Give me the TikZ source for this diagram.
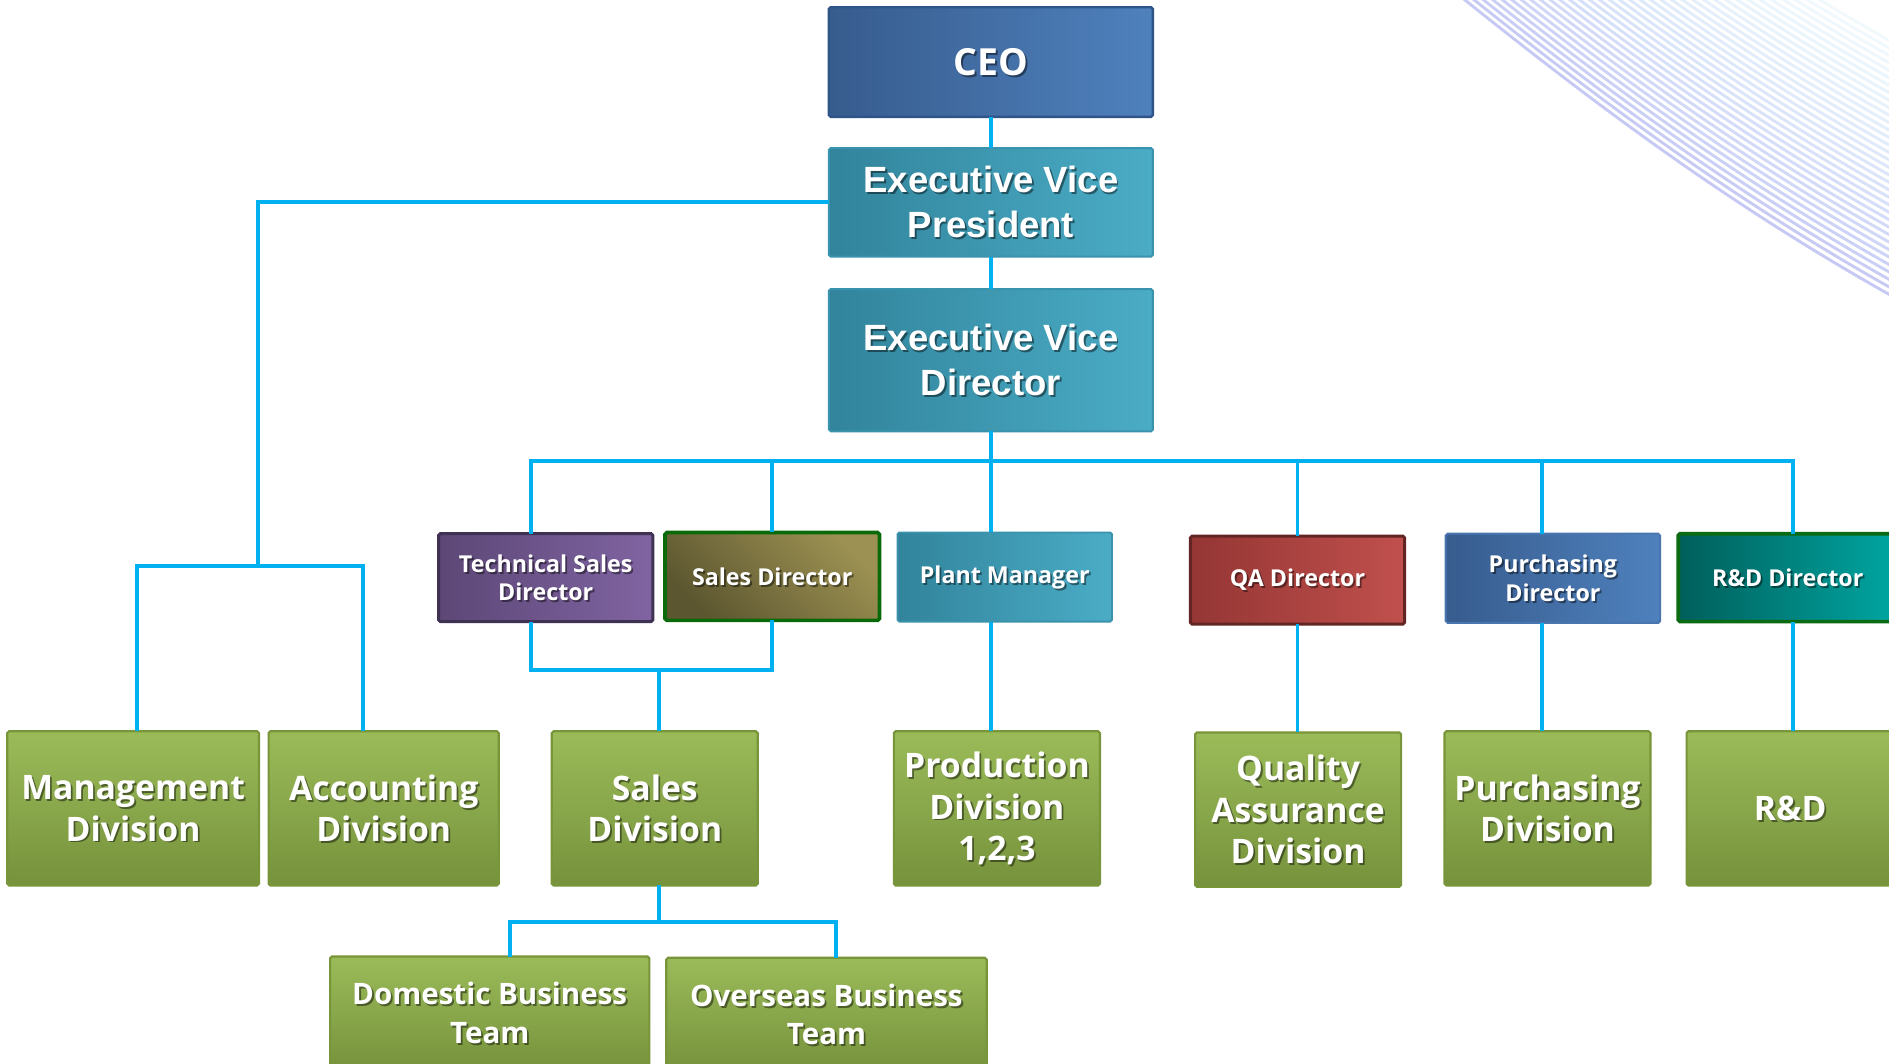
\documentclass[tikz,border=0pt]{standalone}
\usepackage{fontspec}
\setmainfont{Open Sans}
\newfontfamily\arialfont{Liberation Sans}
\definecolor{conncol}{HTML}{00B0F0}
\definecolor{ceoL}{HTML}{375C8E}
\definecolor{ceoR}{HTML}{4F81BD}
\definecolor{ceoB}{HTML}{2F5488}
\definecolor{tealL}{HTML}{31849B}
\definecolor{tealR}{HTML}{4BACC6}
\definecolor{tealB}{HTML}{3A93AC}
\definecolor{purL}{HTML}{5C4776}
\definecolor{purR}{HTML}{8064A2}
\definecolor{purB}{HTML}{3F3151}
\definecolor{olvD}{HTML}{5C5630}
\definecolor{olvL}{HTML}{9C9152}
\definecolor{olvB}{HTML}{0A6A0A}
\definecolor{redL}{HTML}{943634}
\definecolor{redR}{HTML}{C0504D}
\definecolor{redB}{HTML}{632523}
\definecolor{bluB}{HTML}{4A76B0}
\definecolor{rdL}{HTML}{005E5A}
\definecolor{rdR}{HTML}{00A6A2}
\definecolor{rdB}{HTML}{0B6B12}
\definecolor{grnT}{HTML}{9BBB59}
\definecolor{grnD}{HTML}{76923C}
\definecolor{grnB}{HTML}{789639}
\definecolor{decoA}{HTML}{A4A8EE}
\definecolor{decoB}{HTML}{A8DDF8}
\tikzset{
  conn/.style={draw=conncol, line width=3.2pt},
  bx/.style={inner sep=0pt, outer sep=0pt, rounded corners=1.5pt},
  ceobox/.style={bx, left color=ceoL, right color=ceoR, draw=ceoB, line width=2pt},
  tealbox/.style={bx, left color=tealL, right color=tealR, draw=tealB, line width=1.6pt},
  purbox/.style={bx, left color=purL, right color=purR, draw=purB, line width=2.5pt},
  olvbox/.style={bx, top color=olvL, bottom color=olvD, shading angle=-45, draw=olvB, line width=3pt},
  redbox/.style={bx, left color=redL, right color=redR, draw=redB, line width=2.5pt},
  blubox/.style={bx, left color=ceoL, right color=ceoR, draw=bluB, line width=1.6pt},
  rdbox/.style={bx, left color=rdL, right color=rdR, draw=rdB, line width=3pt},
  grnbox/.style={bx, top color=grnT, bottom color=grnD, draw=grnB, line width=1.8pt},
  txtbase/.style={text=white, align=center, inner sep=0pt},
  ceotxt/.style={txtbase, font=\bfseries\fontsize{31}{37}\selectfont},
  arialtxt/.style={txtbase, font=\arialfont\bfseries\fontsize{30.3}{37.4}\selectfont},
  midtxt/.style={txtbase, font=\bfseries\fontsize{19.3}{23.5}\selectfont},
  grntxt/.style={txtbase, font=\bfseries\fontsize{28}{34.5}\selectfont},
  teamtxt/.style={txtbase, font=\bfseries\fontsize{24.5}{32}\selectfont},
}
\newcommand\obox[8]{%
  \pgfmathsetmacro\obw{#4-#2}%
  \pgfmathsetmacro\obh{#5-#3}%
  \node[#6, minimum width=\obw pt, minimum height=\obh pt] (#1) at ({(#2+#4)/2},{(#3+#5)/2}) {};
  \node[#7, text=black, text opacity=0.45] at ([xshift=1.5pt,yshift=-1.6pt]#1.center) {#8};
  \node[#7] at (#1.center) {#8};
}
\begin{document}
\begin{tikzpicture}[x=1pt,y=-1pt]
\path[use as bounding box] (0,0) rectangle (1568,883);
\clip (0,0) rectangle (1568,883);
\fill[white] (0,0) rectangle (1568,883);
% decorative curves
\foreach \k in {0,...,34}{
  \pgfmathtruncatemacro\pct{100-\k*100/34}
  \pgfmathsetmacro\op{0.62-0.47*\k/34}
  \draw[line width=2.4pt, color=decoA!\pct!decoB, opacity=\op, shift={(0,-\k*6.2)}]
    (1130,-70) .. controls (1300,70) and (1430,170) .. (1600,262);
}
% boxes
\obox{ceo}{688}{6}{957}{97}{ceobox}{ceotxt}{CEO}
\obox{evp}{688}{123}{957}{213}{tealbox}{arialtxt}{Executive Vice\\President}
\obox{evd}{688}{240}{957}{358}{tealbox}{arialtxt}{Executive Vice\\Director}
\obox{tsd}{364}{443}{542}{516}{purbox}{midtxt}{Technical Sales\\Director}
\obox{sd}{552}{442}{730}{515}{olvbox}{midtxt}{Sales Director}
\obox{pm}{745}{442}{923}{516}{tealbox}{midtxt}{Plant Manager}
\obox{qad}{988}{445}{1166}{518}{redbox}{midtxt}{QA Director}
\obox{pud}{1200}{443}{1378}{517}{blubox}{midtxt}{Purchasing\\Director}
\obox{rdd}{1393}{443}{1575}{516}{rdbox}{midtxt}{R\&D Director}
\obox{mgmt}{6}{607}{215}{735}{grnbox}{grntxt}{Management\\Division}
\obox{acct}{223}{607}{414}{735}{grnbox}{grntxt}{Accounting\\Division}
\obox{sales}{458}{607}{629}{735}{grnbox}{grntxt}{Sales\\Division}
\obox{prod}{742}{607}{913}{735}{grnbox}{grntxt}{Production\\Division\\1,2,3}
\obox{qadiv}{992}{608}{1163}{736}{grnbox}{grntxt}{Quality\\Assurance\\Division}
\obox{pudiv}{1199}{607}{1370}{735}{grnbox}{grntxt}{Purchasing\\Division}
\obox{rd}{1400}{607}{1572}{735}{grnbox}{grntxt}{R\&D}
\obox{dom}{274}{794}{539}{888}{grnbox}{teamtxt}{Domestic Business\\Team}
\obox{ovs}{553}{795}{819}{889}{grnbox}{teamtxt}{Overseas Business\\Team}
% junction coordinates
\coordinate (lj) at (214,470);
\coordinate (lm) at (114,470);
\coordinate (la) at (301,470);
\coordinate (bL) at (441,383);
\coordinate (bR) at (1488,383);
\coordinate (bP) at (1280,383);
\coordinate (sj) at (547,556);
\coordinate (tj) at (547,765);
\coordinate (tl) at (423,765);
\coordinate (tr) at (694,765);
% connectors
\draw[conn] (ceo.south) -- (evp.north);
\draw[conn] (evp.south) -- (evd.north);
\draw[conn] (evp.west) -| (lj);
\draw[conn] (mgmt.north -| lm) |- (la) -- (la |- acct.north);
\draw[conn] (evd.south) -- (evd.south |- pm.north);
\draw[conn] (tsd.north -| bL) -- (bL) -- (bR) -- (bR |- rdd.north);
\draw[conn] (sd.north) -- (sd.north |- bL);
\draw[conn] (qad.north) -- (qad.north |- bL);
\draw[conn] (bP) -- (bP |- pud.north);
\draw[conn] (tsd.south -| bL) |- (sd.south |- sj) -- (sd.south);
\draw[conn] (sj) -- (sj |- sales.north);
\draw[conn] (pm.south -| evd.south) -- (prod.north -| evd.south);
\draw[conn] (qad.south) -- (qad.south |- qadiv.north);
\draw[conn] (bP |- pud.south) -- (bP |- pudiv.north);
\draw[conn] (bR |- rdd.south) -- (bR |- rd.north);
\draw[conn] (sj |- sales.south) -- (tj);
\draw[conn] (dom.north -| tl) |- (tr) -- (tr |- ovs.north);
\end{tikzpicture}
\end{document}
